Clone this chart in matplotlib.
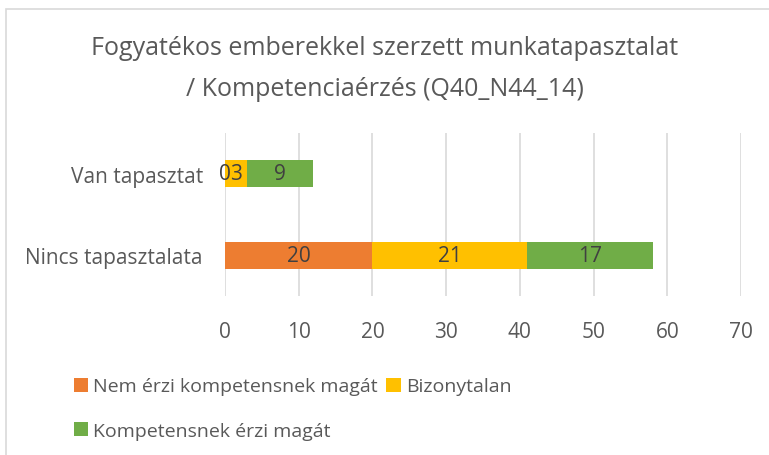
import numpy as np
import matplotlib.pyplot as plt
from matplotlib.patches import Rectangle

# Chart data
categories = ['Van tapasztat', 'Nincs tapasztalata']
nem_erzi = [0, 20]
bizonytalan = [3, 21]
kompetens = [9, 17]
series_names = ['Nem érzi kompetensnek magát', 'Bizonytalan', 'Kompetensnek érzi magát']
x_ticks = [0, 10, 20, 30, 40, 50, 60, 70]

colors = ['#ED7D31', '#FFC000', '#70AD47']
text_color = '#595959'
label_color = '#404040'

plt.rcParams['font.family'] = ['Open Sans', 'DejaVu Sans']

fig = plt.figure(figsize=(7.69, 4.56), dpi=100)
ax = fig.add_axes([225 / 769, 1 - 297 / 456, 516 / 769, 163 / 456])

# chart area border (partly cut off on right/bottom in the reference)
fig.patches.append(Rectangle((6 / 769, -0.1), 1.2, 1 - 10 / 456 + 0.1,
                             transform=fig.transFigure, fill=False,
                             edgecolor='#d9d9d9', linewidth=1.2))

y = np.arange(len(categories))
left = np.zeros(len(categories))
for vals, name, col in zip([nem_erzi, bizonytalan, kompetens], series_names, colors):
    bars = ax.barh(y, vals, left=left, height=0.33, color=col, label=name, zorder=3)
    for yi, v, l in zip(y, vals, left):
        ax.text(l + v / 2, yi, str(v), ha='center', va='center',
                color=label_color, fontsize=15, zorder=4)
    left = left + np.array(vals)

ax.set_xlim(0, 70)
ax.set_ylim(1.5, -0.5)
ax.set_xticks(x_ticks)
ax.set_yticks(y)
ax.set_yticklabels(categories)
ax.grid(axis='x', color='#d9d9d9', linewidth=1.2, zorder=0)
for s in ax.spines.values():
    s.set_visible(False)
ax.tick_params(length=0, colors=text_color, labelsize=15)
ax.tick_params(axis='x', pad=18)
ax.tick_params(axis='y', pad=16)

fig.text(385 / 769, 1 - 69 / 456,
         'Fogyatékos emberekkel szerzett munkatapasztalat\n/ Kompetenciaérzés (Q40_N44_14)',
         ha='center', va='center', fontsize=18, color=text_color, linespacing=1.8)

h, l = ax.get_legend_handles_labels()
order = [0, 2, 1]
leg = fig.legend([h[i] for i in order], [l[i] for i in order], ncol=2,
                 loc='upper left', bbox_to_anchor=(56 / 769, 1 - 361 / 456),
                 frameon=False, fontsize=14, handlelength=0.75, handleheight=0.75,
                 handletextpad=0.25, columnspacing=0.45, labelspacing=1.35)
for t in leg.get_texts():
    t.set_color(text_color)

fig.savefig('out.png', dpi=100)
